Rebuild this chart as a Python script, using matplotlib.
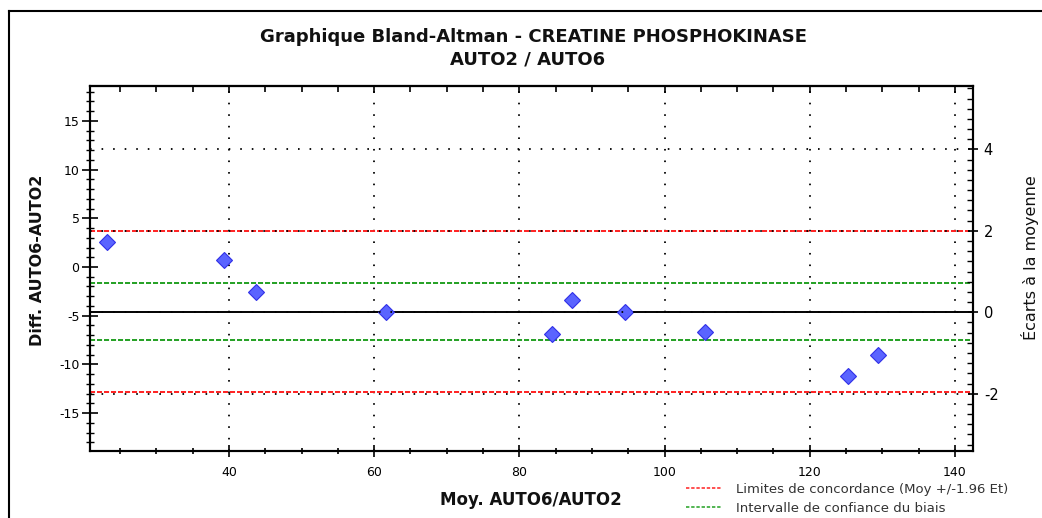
import matplotlib
matplotlib.use('Agg')
import matplotlib.pyplot as plt
from matplotlib.ticker import MultipleLocator, NullFormatter
from matplotlib.lines import Line2D

plt.rcParams['font.family'] = ['DejaVu Sans']
plt.rcParams['axes.unicode_minus'] = False

# ---- data ----
moyenne = [23.2, 39.3, 43.7, 61.6, 84.5, 87.3, 94.6, 105.6, 125.3, 129.4]
difference = [2.57, 0.72, -2.6, -4.6, -6.88, -3.39, -4.59, -6.7, -11.2, -9.07]
biais = -4.65
ecart_type = 4.18
limites = [3.7, -12.8]
ic_biais = [-1.65, -7.5]
x_ticks = [40, 60, 80, 100, 120, 140]
y_ticks = [-15, -10, -5, 0, 5, 10, 15]
ecart_ticks = [-2, 0, 2, 4]
title1 = "Graphique Bland-Altman - CREATINE PHOSPHOKINASE"
title2 = "AUTO2 / AUTO6"
xlabel = "Moy. AUTO6/AUTO2"
ylabel = "Diff. AUTO6-AUTO2"
ylabel2 = "Écarts à la moyenne"
legend_labels = ["Limites de concordance (Moy +/-1.96 Et)",
                 "Intervalle de confiance du biais"]

RED = '#ff2020'
GREEN = '#22a022'
DASH = (0, (2.6, 1.0))
DOT = (0, (0.9, 5.5))

W, H = 1042, 518
fig = plt.figure(figsize=(W / 100, H / 100), dpi=100)
ax = fig.add_axes([90 / W, 1 - 451 / H, (973 - 90) / W, (451 - 86) / H])
xlim = (20.85, 142.5)
ylim = (-18.89, 18.58)
ax.set_xlim(*xlim)
ax.set_ylim(*ylim)

# reference lines
ax.axhline(biais, color='black', lw=1.4, zorder=3)
for v in limites:
    ax.axhline(v, color=RED, lw=1.4, ls=DASH, zorder=3)
for v in ic_biais:
    ax.axhline(v, color=GREEN, lw=1.4, ls=DASH, zorder=3)

# points
ax.plot(moyenne, difference, ls='none', marker='D', ms=8,
        mfc='#5a64ff', mec='#3030e8', mew=0.8, zorder=5)

# x axis
ax.set_xticks(x_ticks)
ax.xaxis.set_minor_locator(MultipleLocator(5))
ax.tick_params(axis='x', which='major', direction='inout', length=9, width=1.2,
               labelsize=9, pad=6, colors='black')
ax.tick_params(axis='x', which='minor', direction='inout', length=5, width=1.2)
ax.xaxis.grid(True, which='major', color='black', ls=DOT, lw=1.3)

# y axis left
ax.set_yticks(y_ticks)
ax.yaxis.set_minor_locator(MultipleLocator(1))
ax.tick_params(axis='y', which='major', direction='inout', length=11, width=1.2,
               labelsize=9, pad=2)
ax.tick_params(axis='y', which='minor', direction='inout', length=6, width=1.0)

for s in ax.spines.values():
    s.set_linewidth(1.5)

# top ticks
secx = ax.secondary_xaxis('top')
secx.set_xticks(x_ticks)
secx.xaxis.set_minor_locator(MultipleLocator(5))
secx.xaxis.set_major_formatter(NullFormatter())
secx.tick_params(which='major', direction='in', length=5, width=1.2)
secx.tick_params(which='minor', direction='in', length=4, width=1.2)
secx.spines['top'].set_linewidth(1.5)

# right axis in SD units
ax2 = ax.twinx()
ax2.set_ylim((ylim[0] - biais) / ecart_type, (ylim[1] - biais) / ecart_type)
ax2.set_yticks(ecart_ticks)
ax2.yaxis.set_minor_locator(MultipleLocator(0.25))
ax2.tick_params(axis='y', which='major', direction='inout', length=7.5, width=1.2,
                labelsize=10.5, pad=4)
ax2.tick_params(axis='y', which='minor', direction='in', length=4, width=1.0)
ax2.yaxis.grid(True, which='major', color='black', ls=DOT, lw=1.3)
for s in ax2.spines.values():
    s.set_linewidth(1.5)

# titles and labels
fig.text(533 / W, 1 - 42 / H, title1, ha='center', va='baseline',
         fontsize=13, fontweight='bold', color='#111111')
fig.text(528 / W, 1 - 65 / H, title2, ha='center', va='baseline',
         fontsize=13, fontweight='bold', color='#111111')
fig.text(531 / W, 1 - 500 / H, xlabel, ha='center', va='center',
         fontsize=12, fontweight='bold', color='#111111')
fig.text(38 / W, 1 - 260 / H, ylabel, ha='center', va='center', rotation=90,
         fontsize=11.5, fontweight='bold', color='#111111')
fig.text(1030 / W, 1 - 258 / H, ylabel2, ha='center', va='center', rotation=90,
         fontsize=11.5, color='#111111')

# legend
handles = [Line2D([], [], color=RED, ls=(0, (2.2, 1.2)), lw=1.1),
           Line2D([], [], color=GREEN, ls=(0, (2.2, 1.2)), lw=1.1)]
leg = fig.legend(handles, legend_labels, loc='upper left',
                 bbox_to_anchor=(686 / W, 1 - 483 / H), frameon=False,
                 fontsize=9.5, handlelength=2.7, handletextpad=1.1,
                 borderpad=0, borderaxespad=0, labelspacing=0.45)
for t in leg.get_texts():
    t.set_color('#333333')

# outer frame (left and top edges visible)
fig.add_artist(Line2D([9 / W, 9 / W], [0, 1 - 11 / H], transform=fig.transFigure,
                      color='black', lw=1.5))
fig.add_artist(Line2D([9 / W, 1], [1 - 11 / H, 1 - 11 / H], transform=fig.transFigure,
                      color='black', lw=1.5))

fig.savefig('out.png', dpi=100)
